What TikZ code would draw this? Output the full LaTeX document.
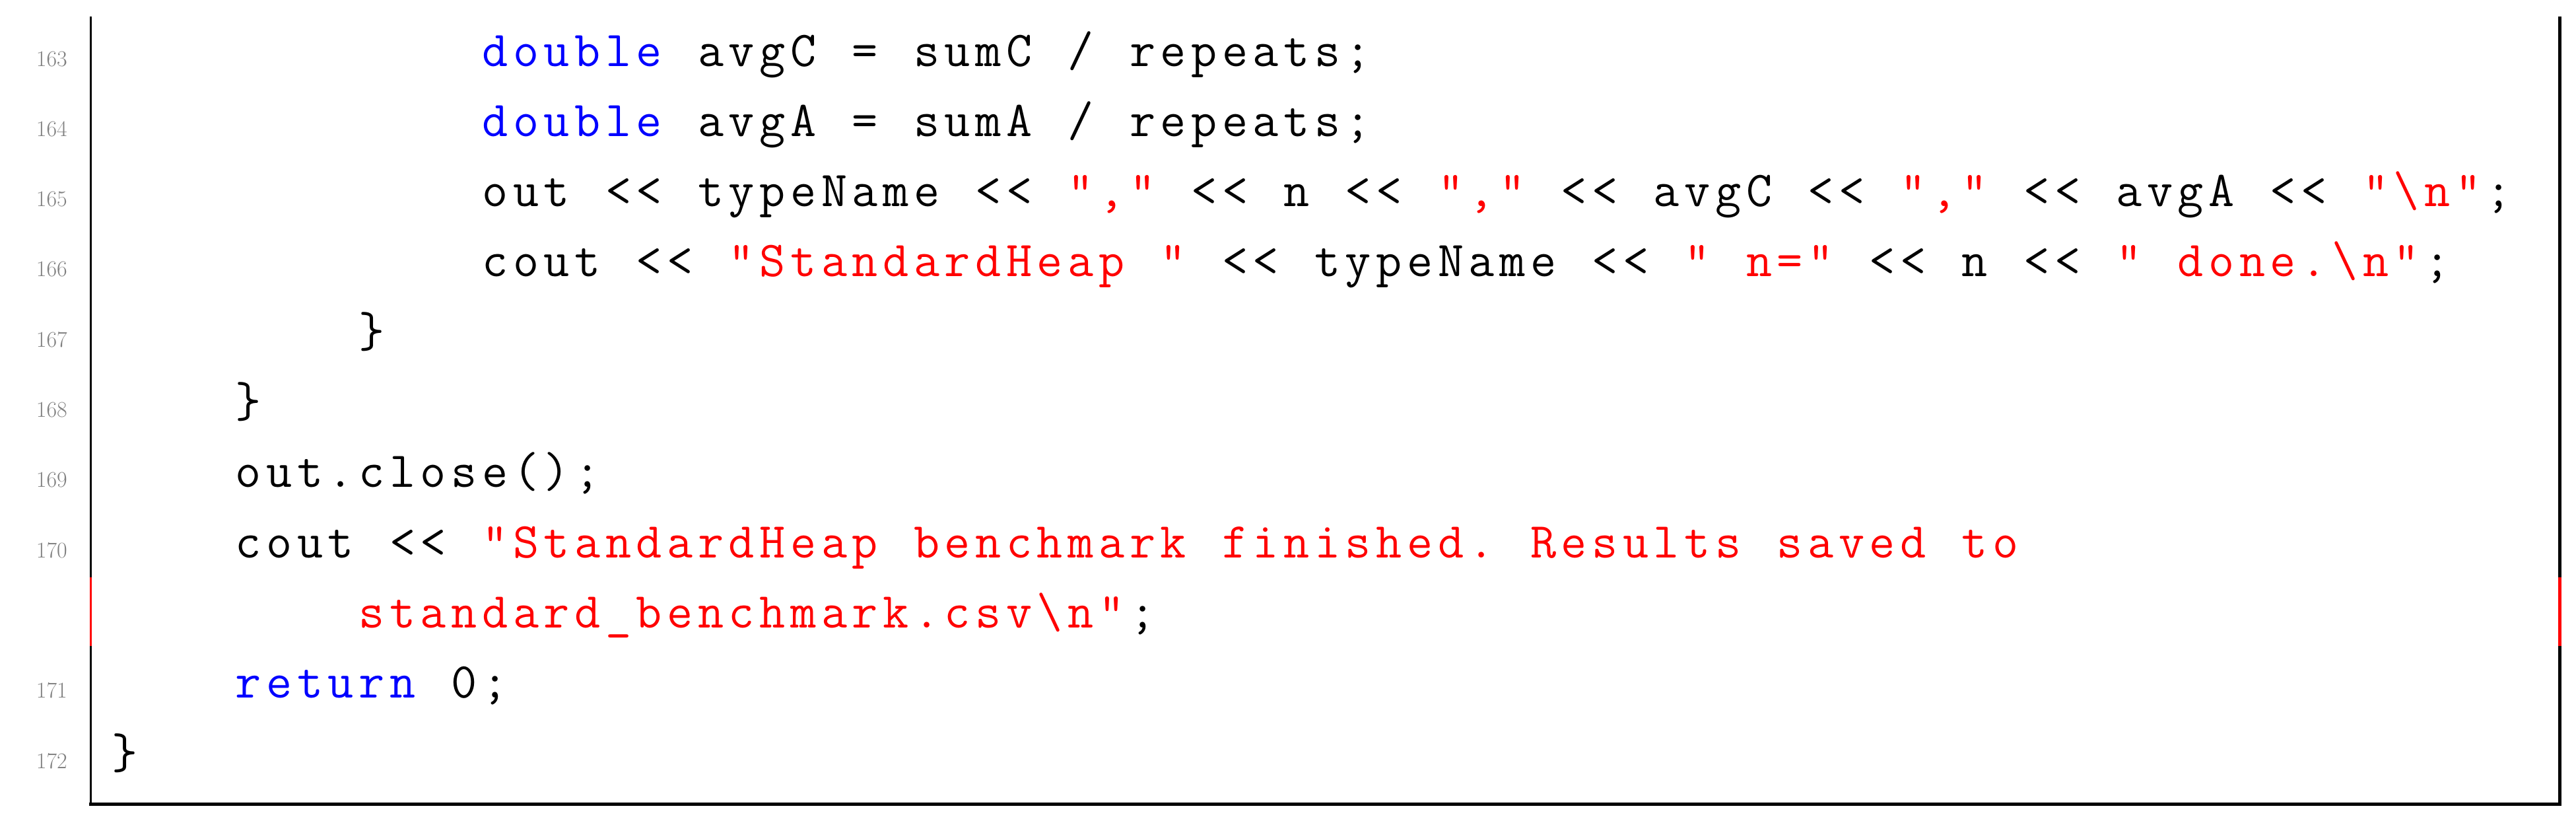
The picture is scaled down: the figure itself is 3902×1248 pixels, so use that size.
\documentclass[tikz,border=0pt]{standalone}
\usepackage{xcolor}
\ExplSyntaxOn
\NewDocumentCommand\codechars{m}{\tl_map_inline:nn {#1} { \makebox[46.7pt]{##1} }}
\ExplSyntaxOff
\newcommand\kw[1]{\textcolor{blue}{\codechars{#1}}}
\newcommand\st[1]{\textcolor{red}{\codechars{#1}}}
\newcommand\pl[1]{\codechars{#1}}
\begin{document}
\begin{tikzpicture}[x=1pt,y=-1pt,
  code/.style={anchor=base west,inner sep=0pt,font=\fontsize{76}{80}\ttfamily},
  lno/.style={anchor=base east,inner sep=0pt,text=gray,font=\fontsize{34}{36}\rmfamily},
  frame/.style={line cap=rect}]
\useasboundingbox (0,0) rectangle (3902,1248);
\def\cx#1{\fpeval{166+#1*46.7}}
\def\ly#1{\fpeval{100+#1*106.3}}
% line numbers
\foreach \n/\i in {163/0,164/1,165/2,166/3,167/4,168/5,169/6,170/7,171/9,172/10}
  \node[lno] (n\n) at (102,{100+\i*106.3}) {\n};
% code
\node[code] (c163) at ({166+12*46.7},{100+0*106.3}) {\kw{double}\pl{~avgC~=~sumC~/~repeats;}};
\node[code] (c164) at ({166+12*46.7},{100+1*106.3}) {\kw{double}\pl{~avgA~=~sumA~/~repeats;}};
\node[code] (c165) at ({166+12*46.7},{100+2*106.3}) {\pl{out~<<~typeName~<<~}\st{","}\pl{~<<~n~<<~}\st{","}\pl{~<<~avgC~<<~}\st{","}\pl{~<<~avgA~<<~}\st{"\textbackslash n"}\pl{;}};
\node[code] (c166) at ({166+12*46.7},{100+3*106.3}) {\pl{cout~<<~}\st{"StandardHeap~"}\pl{~<<~typeName~<<~}\st{"~n="}\pl{~<<~n~<<~}\st{"~done.\textbackslash n"}\pl{;}};
\node[code] (c167) at ({166+8*46.7},{100+4*106.3}) {\pl{\}}};
\node[code] (c168) at ({166+4*46.7},{100+5*106.3}) {\pl{\}}};
\node[code] (c169) at ({166+4*46.7},{100+6*106.3}) {\pl{out.close();}};
\node[code] (c170) at ({166+4*46.7},{100+7*106.3}) {\pl{cout~<<~}\st{"StandardHeap~benchmark~finished.~Results~saved~to}};
\node[code] (c170b) at ({166+8*46.7},{100+8*106.3}) {\st{standard\_benchmark.csv\textbackslash n"}\pl{;}};
\node[code] (c171) at ({166+4*46.7},{100+9*106.3}) {\kw{return}\pl{~0;}};
\node[code] (c172) at ({166+0*46.7},{100+10*106.3}) {\pl{\}}};
% frame
\draw[line width=3pt] (137,25) -- (137,874);
\draw[line width=3pt,red] (137,874) -- (137,978);
\draw[line width=3pt] (137,978) -- (137,1217);
\draw[line width=5pt,frame] (137,1217) -- (3877,1217) -- (3877,978);
\draw[line width=5pt,red] (3877,978) -- (3877,874);
\draw[line width=5pt] (3877,874) -- (3877,25);
\end{tikzpicture}
\end{document}
